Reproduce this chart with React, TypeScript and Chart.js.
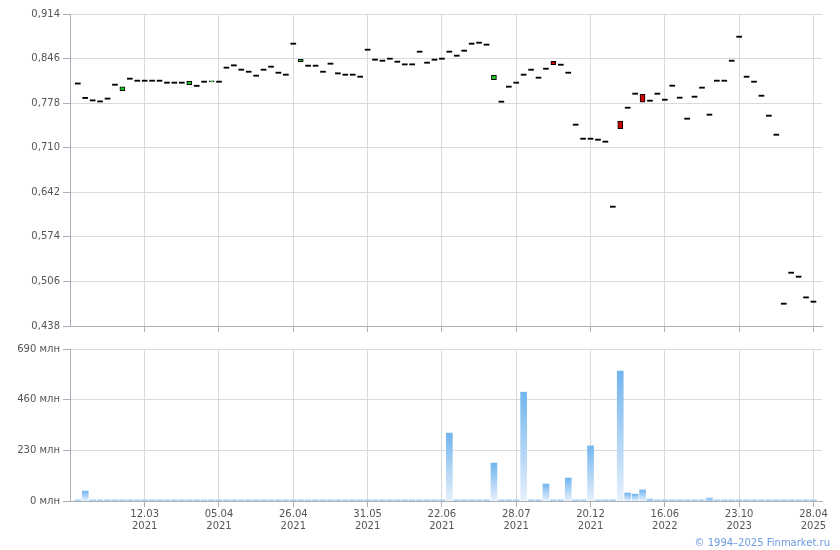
import React, { useEffect, useRef } from 'react';
import { Chart, registerables } from 'chart.js';

Chart.register(...registerables);

// Candle closes (index = trading session, left to right)
const CLOSE = [
  0.807, 0.785, 0.7813, 0.7797, 0.784, 0.8052, 0.803, 0.8144, 0.8113, 0.8113,
  0.8113, 0.8113, 0.8083, 0.8083, 0.8083, 0.8113, 0.8035, 0.8098, 0.8113, 0.8098,
  0.8312, 0.8347, 0.8281, 0.825, 0.819, 0.8281, 0.8327, 0.8235, 0.8205, 0.8678,
  0.8449, 0.8342, 0.8342, 0.825, 0.8373, 0.8225, 0.8205, 0.8205, 0.8174, 0.8586,
  0.8434, 0.8418, 0.8449, 0.8403, 0.8362, 0.8362, 0.8556, 0.8388, 0.8434, 0.8449,
  0.8556, 0.8495, 0.8571, 0.8678, 0.8693, 0.8663, 0.8205, 0.7793, 0.8022, 0.8083,
  0.8205, 0.8281, 0.8159, 0.8296, 0.8367, 0.8357, 0.8235, 0.7442, 0.7228, 0.7228,
  0.7213, 0.7183, 0.6191, 0.739, 0.7701, 0.7915, 0.7793, 0.7808, 0.7915, 0.7823,
  0.8037, 0.7854, 0.7534, 0.7869, 0.8007, 0.7595, 0.8113, 0.8113, 0.8418, 0.8784,
  0.8174, 0.8098, 0.7884, 0.7579, 0.7289, 0.4711, 0.5184, 0.5123, 0.4807, 0.4742,
];

// Candle opens
const OPEN = [
  0.807, 0.785, 0.7813, 0.7797, 0.784, 0.8052, 0.797, 0.8144, 0.8113, 0.8113,
  0.8113, 0.8113, 0.8083, 0.8083, 0.8083, 0.806, 0.8035, 0.8098, 0.8103, 0.8098,
  0.8312, 0.8347, 0.8281, 0.825, 0.819, 0.8281, 0.8327, 0.8235, 0.8205, 0.8678,
  0.8413, 0.8342, 0.8342, 0.825, 0.8373, 0.8225, 0.8205, 0.8205, 0.8174, 0.8586,
  0.8434, 0.8418, 0.8449, 0.8403, 0.8362, 0.8362, 0.8556, 0.8388, 0.8434, 0.8449,
  0.8556, 0.8495, 0.8571, 0.8678, 0.8693, 0.8663, 0.8138, 0.7793, 0.8022, 0.8083,
  0.8205, 0.8281, 0.8159, 0.8296, 0.8418, 0.8357, 0.8235, 0.7442, 0.7228, 0.7228,
  0.7213, 0.7183, 0.6191, 0.7508, 0.7701, 0.7915, 0.7915, 0.7808, 0.7915, 0.7823,
  0.8037, 0.7854, 0.7534, 0.7869, 0.8007, 0.7595, 0.8113, 0.8113, 0.8418, 0.8784,
  0.8174, 0.8098, 0.7884, 0.7579, 0.7289, 0.4711, 0.5184, 0.5123, 0.4807, 0.4742,
];

// Volume, млн
const VOLUME = [
  5, 45, 5, 5, 5, 5, 5, 5, 5, 5,
  5, 5, 5, 5, 5, 5, 5, 5, 5, 5,
  5, 5, 5, 5, 5, 5, 5, 5, 5, 5,
  5, 5, 5, 5, 5, 5, 5, 5, 5, 5,
  5, 5, 5, 5, 5, 5, 5, 5, 5, 5,
  308, 5, 5, 5, 5, 5, 172, 5, 5, 5,
  494, 5, 5, 77, 5, 5, 104, 5, 5, 250,
  5, 5, 5, 590, 36, 31, 50, 9, 5, 5,
  5, 5, 5, 5, 5, 14, 5, 5, 5, 5,
  5, 5, 5, 5, 5, 5, 5, 5, 5, 5,
];

const PRICE_TICKS = [0.438, 0.506, 0.574, 0.642, 0.71, 0.778, 0.846, 0.914];
const VOLUME_TICKS = [0, 230, 460, 690];
const TICK_INDEX = [9, 19, 29, 39, 49, 59, 69, 79, 89, 99];
const TICK_DATES = ['12.03', '05.04', '26.04', '31.05', '22.06', '28.07', '20.12', '16.06', '23.10', '28.04'];
const TICK_YEARS = ['2021', '2021', '2021', '2021', '2021', '2021', '2021', '2022', '2023', '2025'];

const GRID = '#d6dbe0';
const AXIS = '#a9b0b7';
const LABEL = '#555555';
const FONT = 'DejaVu Sans';
const GREEN = '#1ec81e';
const RED = '#cc0000';

function xScale(showLabels: boolean, height: number) {
  return {
    type: 'linear' as const,
    min: -1.05,
    max: 100.15,
    bounds: 'data' as const,
    offset: false,
    afterBuildTicks: (s: any) => {
      s.ticks = TICK_INDEX.map((v) => ({ value: v }));
    },
    afterFit: (s: any) => {
      s.height = height;
    },
    ticks: {
      display: showLabels,
      autoSkip: false,
      maxRotation: 0,
      minRotation: 0,
      padding: 2,
      color: LABEL,
      font: { family: FONT, size: 10, lineHeight: 1.15 },
      callback: (v: any) => {
        const k = TICK_INDEX.indexOf(Number(v));
        return k >= 0 ? [TICK_DATES[k], TICK_YEARS[k]] : '';
      },
    },
    grid: { color: GRID, tickColor: AXIS, tickLength: 6, offset: false },
    border: { color: AXIS },
  };
}

function yScale(ticks: number[], min: number, max: number, fmt: (v: number) => string) {
  return {
    min,
    max,
    afterBuildTicks: (s: any) => {
      s.ticks = ticks.map((v) => ({ value: v }));
    },
    afterFit: (s: any) => {
      s.width = 70;
    },
    ticks: {
      padding: 3,
      color: LABEL,
      font: { family: FONT, size: 10 },
      callback: (v: any) => fmt(Number(v)),
    },
    grid: { color: GRID, tickColor: AXIS, tickLength: 7 },
    border: { color: AXIS },
  };
}

export default function App() {
  const topRef = useRef<HTMLCanvasElement>(null);
  const botRef = useRef<HTMLCanvasElement>(null);

  useEffect(() => {
    const top = new Chart(topRef.current!, {
      type: 'bar',
      data: {
        datasets: [
          {
            data: CLOSE.map((c, i) => ({ x: i, y: [OPEN[i], c] })) as any,
            backgroundColor: CLOSE.map((c, i) => (c > OPEN[i] ? GREEN : c < OPEN[i] ? RED : '#000000')),
            borderColor: '#000000',
            borderWidth: CLOSE.map((c, i) => (c === OPEN[i] ? 0 : 1)),
            borderSkipped: false,
            barThickness: 5,
            minBarLength: 1.2,
          } as any,
        ],
      },
      options: {
        animation: false,
        responsive: false,
        events: [],
        layout: { padding: { left: 0, right: 18, top: 14, bottom: 0 } },
        plugins: { legend: { display: false }, tooltip: { enabled: false } },
        scales: {
          x: xScale(false, 14) as any,
          y: yScale(PRICE_TICKS, 0.438, 0.914, (v) => v.toFixed(3).replace('.', ',')) as any,
        },
      },
    });

    const bot = new Chart(botRef.current!, {
      type: 'bar',
      data: {
        datasets: [
          {
            data: VOLUME.map((v, i) => ({ x: i, y: v })),
            backgroundColor: (c: any) => {
              const chart = c.chart;
              if (!chart.chartArea || c.type !== 'data' || !c.parsed) return '#9ac8f0';
              const ys = chart.scales.y;
              const t = ys.getPixelForValue(c.parsed.y);
              const b = ys.getPixelForValue(0);
              if (b - t < 4) return '#9ac8f0';
              const g = chart.ctx.createLinearGradient(0, t, 0, b);
              g.addColorStop(0, '#72b5ee');
              g.addColorStop(1, '#e6f0fb');
              return g;
            },
            borderWidth: 0,
            barThickness: 6,
          } as any,
        ],
      },
      options: {
        animation: false,
        responsive: false,
        events: [],
        layout: { padding: { left: 0, right: 18, top: 9, bottom: 0 } },
        plugins: { legend: { display: false }, tooltip: { enabled: false } },
        scales: {
          x: xScale(true, 49) as any,
          y: yScale(VOLUME_TICKS, 0, 690, (v) => `${v} млн`) as any,
        },
      },
    });

    return () => {
      top.destroy();
      bot.destroy();
    };
  }, []);

  return (
    <div style={{ position: 'absolute', left: 0, top: 0, width: 840, height: 550, background: '#fff' }}>
      <canvas ref={topRef} width={840} height={340} style={{ position: 'absolute', left: 0, top: 0 }} />
      <canvas ref={botRef} width={840} height={210} style={{ position: 'absolute', left: 0, top: 340 }} />
      <div
        style={{
          position: 'absolute',
          right: 10,
          top: 536,
          fontFamily: FONT,
          fontSize: 10,
          lineHeight: '14px',
          color: '#6b9be0',
          whiteSpace: 'nowrap',
        }}
      >
        © 1994–2025 Finmarket.ru
      </div>
    </div>
  );
}
